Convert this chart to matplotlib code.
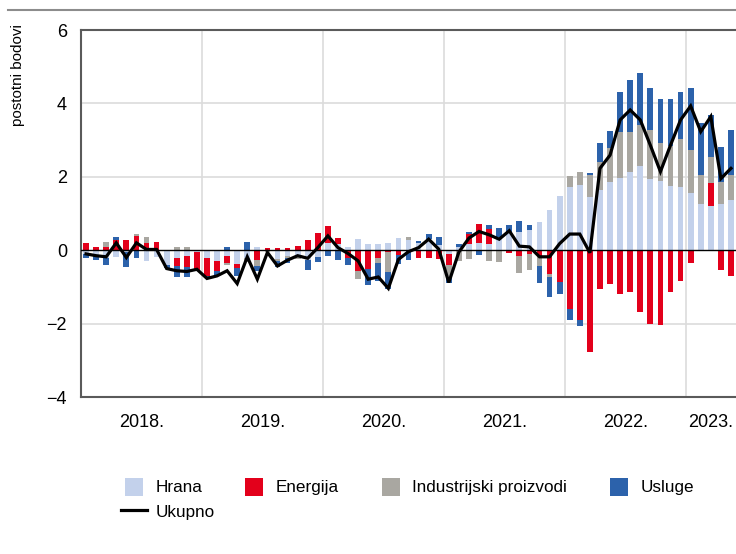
import matplotlib
matplotlib.use("Agg")
import matplotlib.pyplot as plt
import numpy as np
from matplotlib.patches import Patch, Rectangle
from matplotlib.lines import Line2D
from matplotlib.legend_handler import HandlerPatch

plt.rcParams['font.family'] = ['Liberation Sans Narrow', 'Liberation Sans', 'DejaVu Sans']

# ---- data: monthly contributions (percentage points), Jan 2018 - May 2023 ----
year_labels = ["2018.", "2019.", "2020.", "2021.", "2022.", "2023."]
series_names = ["Hrana", "Energija", "Industrijski proizvodi", "Usluge"]
total_name = "Ukupno"

hrana = [-0.10, -0.12, -0.20, -0.18, -0.05, 0.00, -0.30, -0.18, -0.40, -0.20, -0.15, -0.05,
         -0.20, -0.30, -0.15, -0.37, -0.20, 0.10, 0.00, -0.25, -0.15, -0.18, -0.28, -0.18,
         0.20, 0.16, 0.10, 0.30, 0.16, 0.16, 0.20, 0.33, 0.27, 0.20, 0.30, 0.15,
         -0.10, 0.10, 0.16, 0.20, 0.18, 0.35, 0.50, 0.50, 0.55, 0.77, 1.09, 1.47,
         1.73, 1.77, 1.45, 1.64, 1.86, 1.98, 2.14, 2.29, 1.95, 1.89, 1.75, 1.73,
         1.55, 1.25, 1.20, 1.25, 1.38]
energija = [0.20, 0.10, 0.10, 0.27, 0.27, 0.40, 0.20, 0.22, 0.00, -0.23, -0.30, -0.50,
            -0.50, -0.28, -0.20, -0.12, 0.00, -0.27, 0.05, 0.05, 0.05, 0.12, 0.28, 0.48,
            0.45, 0.16, -0.20, -0.56, -0.52, -0.20, -0.05, -0.13, 0.00, -0.20, -0.22, -0.25,
            -0.30, 0.00, 0.27, 0.52, 0.39, 0.00, -0.07, -0.16, -0.09, -0.15, -0.64, -0.86,
            -1.59, -1.89, -2.77, -1.05, -0.93, -1.18, -1.14, -1.68, -2.00, -2.05, -1.14, -0.84,
            -0.34, 0.00, 0.64, -0.53, -0.71]
industrijski = [0.00, 0.00, 0.12, 0.00, 0.00, 0.05, 0.15, 0.00, 0.00, 0.10, 0.10, 0.00,
                0.00, 0.00, -0.05, 0.00, -0.12, -0.15, -0.05, -0.05, -0.05, -0.05, 0.00, 0.00,
                0.00, 0.00, 0.00, -0.22, 0.00, -0.14, -0.55, 0.00, 0.08, 0.00, 0.00, 0.00,
                -0.32, -0.30, -0.25, 0.00, -0.29, -0.32, 0.00, -0.45, -0.45, -0.27, -0.09, 0.00,
                0.29, 0.36, 0.59, 0.77, 0.93, 1.25, 1.09, 1.12, 1.32, 1.02, 1.09, 1.29,
                1.18, 0.80, 0.69, 0.61, 0.66]
usluge = [-0.12, -0.14, -0.20, 0.09, -0.40, -0.22, 0.00, 0.00, -0.08, -0.30, -0.27, 0.00,
          -0.05, -0.12, 0.10, -0.20, 0.22, -0.15, 0.00, -0.15, -0.15, 0.00, -0.27, -0.15,
          -0.15, -0.28, -0.20, 0.00, -0.43, -0.50, -0.45, -0.24, -0.27, 0.05, 0.14, 0.20,
          -0.18, 0.08, 0.07, -0.14, 0.11, 0.25, 0.18, 0.30, 0.14, -0.48, -0.55, -0.32,
          -0.32, -0.18, 0.05, 0.50, 0.47, 1.09, 1.41, 1.43, 1.14, 1.20, 1.27, 1.30,
          1.68, 1.41, 1.15, 0.95, 1.23]
ukupno = [-0.10, -0.15, -0.18, 0.20, -0.20, 0.20, 0.02, 0.02, -0.50, -0.56, -0.58, -0.52,
          -0.77, -0.70, -0.56, -0.91, -0.18, -0.79, -0.06, -0.43, -0.27, -0.15, -0.22, 0.07,
          0.39, 0.07, -0.09, -0.29, -0.79, -0.73, -1.04, -0.25, -0.04, 0.07, 0.30, 0.03,
          -0.88, -0.05, 0.33, 0.51, 0.42, 0.30, 0.53, 0.11, 0.09, -0.18, -0.18, 0.18,
          0.44, 0.44, -0.07, 2.23, 2.59, 3.55, 3.82, 3.55, 2.86, 2.14, 2.86, 3.55,
          3.93, 3.23, 3.64, 1.95, 2.23]

colors = ["#c3d1eb", "#e3001b", "#a9a7a1", "#2c62ab"]

W, H = 736, 554
fig = plt.figure(figsize=(W / 100, H / 100), dpi=100)
ax = fig.add_axes([81 / W, (H - 397) / H, (W - 81) / W, (397 - 30) / H])

n = len(ukupno)
x = np.arange(n) + 0.5
series = [hrana, energija, industrijski, usluge]
pos_base = np.zeros(n)
neg_base = np.zeros(n)
for vals, col, name in zip(series, colors, series_names):
    v = np.array(vals, dtype=float)
    p = np.where(v > 0, v, 0)
    m = np.where(v < 0, v, 0)
    ax.bar(x, p, bottom=pos_base, width=0.58, color=col, linewidth=0, zorder=3)
    ax.bar(x, m, bottom=neg_base, width=0.58, color=col, linewidth=0, zorder=3)
    pos_base += p
    neg_base += m

ax.plot(x, ukupno, color="black", lw=2.3, zorder=5, solid_joinstyle="miter")
ax.axhline(0, color="black", lw=1.0, zorder=4)

ax.set_xlim(0, n)
ax.set_ylim(-4, 6)
ax.set_yticks([-4, -2, 0, 2, 4, 6])
ax.set_yticklabels(["\u22124", "\u22122", "0", "2", "4", "6"])
ax.tick_params(axis="y", length=0, pad=10, labelsize=13)

bounds = [12, 24, 36, 48, 60]
ax.set_xticks(bounds)
ax.set_xticklabels([])
centers = [6, 18, 30, 42, 54, (60 + n) / 2]
ax.set_xticks(centers, minor=True)
ax.set_xticklabels(year_labels, minor=True)
ax.tick_params(axis="x", which="both", length=0)
ax.tick_params(axis="x", which="minor", pad=12, labelsize=13)

for b in bounds:
    ax.axvline(b, color="#dcdcdc", lw=1.2, zorder=1)
for yv in [-2, 2, 4]:
    ax.axhline(yv, color="#dcdcdc", lw=1.2, zorder=1)

for s in ["left", "bottom", "top"]:
    ax.spines[s].set_color("#5a5a5a")
    ax.spines[s].set_linewidth(1.5)
ax.spines["right"].set_visible(False)

fig.text(18 / W, 1 - 75 / H, "postotni bodovi", rotation=90, ha="center", va="center", fontsize=11)
fig.add_artist(Line2D([8 / W, 1], [1 - 10 / H, 1 - 10 / H], transform=fig.transFigure,
                      color="#8c8c8c", lw=1.5))


class SquareHandler(HandlerPatch):
    def create_artists(self, legend, orig_handle, xdescent, ydescent, width, height, fontsize, trans):
        s = fontsize * 1.05
        r = Rectangle((width / 2 - s / 2 - xdescent, height / 2 - s / 2 - ydescent), s, s,
                      facecolor=orig_handle.get_facecolor(), edgecolor="none", transform=trans)
        return [r]


leg_kw = dict(loc="upper left", frameon=False, fontsize=12.3,
              handlelength=1.5, handleheight=1.0, handletextpad=0.5,
              labelspacing=0.45, borderpad=0, borderaxespad=0,
              handler_map={Patch: SquareHandler()})

# column 1: Hrana + Ukupno
fig.legend([Patch(facecolor=colors[0]), Line2D([], [], color="black", lw=2.3)],
           [series_names[0], total_name], bbox_to_anchor=(121 / W, 1 - 479 / H), **leg_kw)
# remaining columns
for name, col, xpx in zip(series_names[1:], colors[1:], [241, 378, 606]):
    fig.legend([Patch(facecolor=col)], [name], bbox_to_anchor=(xpx / W, 1 - 479 / H), **leg_kw)

fig.savefig("out.png", dpi=100)
